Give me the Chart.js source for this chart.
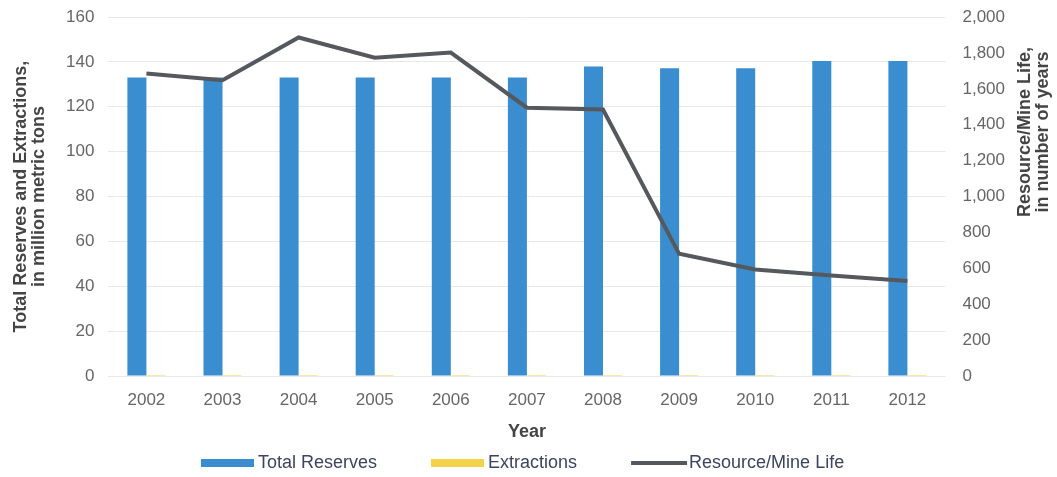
<!DOCTYPE html>
<html>
<head>
<meta charset="utf-8">
<script src="https://cdn.jsdelivr.net/npm/chart.js@4"></script>
<style>
  html, body { margin: 0; padding: 0; background: #fff; }
  #wrap { width: 1057px; height: 477px; position: relative; }
</style>
</head>
<body>
<div id="wrap"><canvas id="chart"></canvas></div>
<script>
const years = ['2002', '2003', '2004', '2005', '2006', '2007', '2008', '2009', '2010', '2011', '2012'];
const totalReserves = [133, 133, 133, 133, 133, 133, 138, 137.2, 137.2, 140.4, 140.4];
const extractions = [0.08, 0.08, 0.07, 0.08, 0.07, 0.09, 0.09, 0.2, 0.23, 0.25, 0.27];
const mineLife = [1685, 1648, 1886, 1773, 1802, 1495, 1485, 681, 594, 560, 529];

const FONT = 'Liberation Sans';
const tickFont = { family: FONT, size: 17 };
const titleFont = { family: FONT, size: 18, weight: 'bold', lineHeight: 1.0 };
const rightTitle = ['Resource/Mine Life,', 'in number of years'];

// right axis title (sits higher than the axis middle) and the legend row
const extrasPlugin = {
  id: 'extras',
  afterDraw(chart) {
    const { ctx } = chart;
    ctx.save();
    ctx.translate(1034, 132);
    ctx.rotate(-Math.PI / 2);
    ctx.font = 'bold 18px ' + FONT;
    ctx.fillStyle = '#444';
    ctx.textAlign = 'center';
    ctx.textBaseline = 'middle';
    ctx.fillText(rightTitle[0], 0, -9);
    ctx.fillText(rightTitle[1], 0, 9);
    ctx.restore();

    // legend: bars first, then the line
    ctx.save();
    ctx.font = '18px ' + FONT;
    ctx.textBaseline = 'middle';
    ctx.textAlign = 'left';
    const y = 463;
    let x = 201;
    [1, 2, 0].forEach(i => {
      const ds = chart.data.datasets[i];
      if (ds.type === 'line') {
        ctx.fillStyle = ds.borderColor;
        ctx.fillRect(x, y - 2, 56, 4);
        x += 58;
      } else {
        ctx.fillStyle = ds.backgroundColor;
        ctx.fillRect(x, y - 4, 53, 8);
        x += 57;
      }
      ctx.fillStyle = '#3c4560';
      ctx.fillText(ds.label, x, y);
      x += ctx.measureText(ds.label).width + 54;
    });
    ctx.restore();
  }
};

new Chart(document.getElementById('chart'), {
  data: {
    labels: years,
    datasets: [
      {
        type: 'line',
        label: 'Resource/Mine Life',
        data: mineLife,
        yAxisID: 'yRight',
        borderColor: '#55595d',
        borderWidth: 4,
        pointRadius: 0,
        tension: 0,
        order: 0
      },
      {
        type: 'bar',
        label: 'Total Reserves',
        data: totalReserves,
        yAxisID: 'yLeft',
        backgroundColor: '#3a8dcf',
        categoryPercentage: 0.5,
        barPercentage: 1,
        order: 1
      },
      {
        type: 'bar',
        label: 'Extractions',
        data: extractions,
        yAxisID: 'yLeft',
        backgroundColor: '#f3d34a',
        categoryPercentage: 0.5,
        barPercentage: 1,
        minBarLength: 1,
        order: 1
      }
    ]
  },
  options: {
    responsive: true,
    maintainAspectRatio: false,
    animation: false,
    layout: { autoPadding: false, padding: { left: 12, right: 52, top: 17, bottom: 35.5 } },
    plugins: {
      tooltip: { enabled: false },
      legend: { display: false }
    },
    scales: {
      x: {
        grid: { display: false },
        border: { display: false },
        ticks: { color: '#666', font: tickFont, padding: 6.5 },
        title: { display: true, text: 'Year', color: '#444', font: titleFont, padding: { top: 6, bottom: 0 } }
      },
      yLeft: {
        position: 'left',
        min: 0,
        max: 160,
        ticks: { stepSize: 20, color: '#666', font: tickFont, padding: 0 },
        grid: { color: '#e8e8e8', drawTicks: true, tickLength: 14, tickColor: 'rgba(0,0,0,0)' },
        border: { display: false },
        title: {
          display: true,
          text: ['Total Reserves and Extractions,', 'in million metric tons'],
          color: '#444',
          font: titleFont,
          padding: { top: 0, bottom: 18 }
        }
      },
      yRight: {
        position: 'right',
        min: 0,
        max: 2000,
        ticks: {
          stepSize: 200,
          color: '#666',
          font: tickFont,
          padding: 0,
          callback: v => v.toLocaleString('en-US')
        },
        grid: {
          drawOnChartArea: false,
          drawTicks: true,
          tickLength: 17,
          color: 'rgba(0,0,0,0)',
          tickColor: 'rgba(0,0,0,0)'
        },
        border: { display: false }
      }
    }
  },
  plugins: [extrasPlugin]
});
</script>
</body>
</html>
